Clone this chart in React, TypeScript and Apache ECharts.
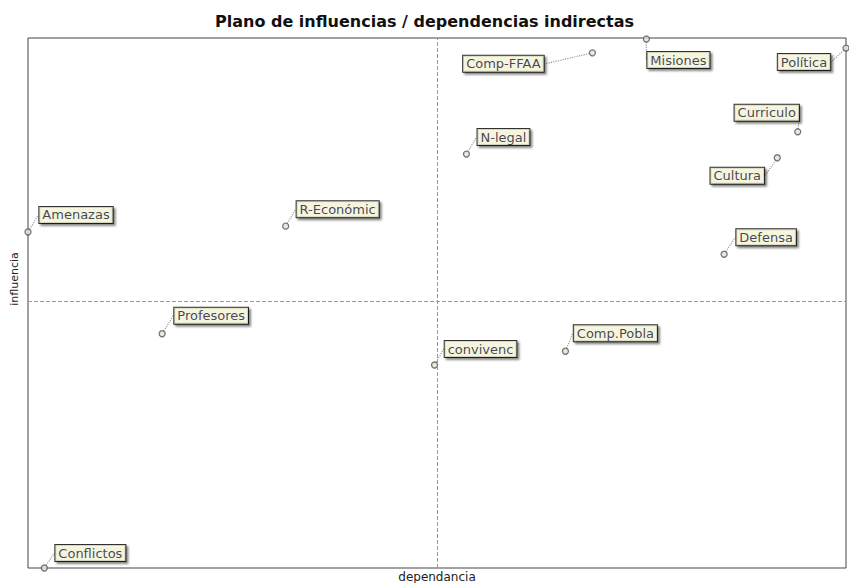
import React, { useEffect, useRef } from "react";
import * as echarts from "echarts";

const TITLE = "Plano de influencias / dependencias indirectas";
const X_NAME = "dependancia";
const Y_NAME = "influencia";

const NAMES = [
  "Comp-FFAA", "Misiones", "Política", "Curriculo", "N-legal", "Cultura", "Defensa",
  "Amenazas", "R-Económic", "Profesores", "convivenc", "Comp.Pobla", "Conflictos",
];
const DEPENDENCIA = [69.0, 75.6, 100, 94.1, 53.6, 91.6, 85.1, 0, 31.5, 16.4, 49.7, 65.7, 2.0];
const INFLUENCIA = [97.2, 99.8, 98.1, 82.3, 78.1, 77.4, 59.2, 63.4, 64.5, 44.2, 38.3, 40.9, 0];

const X_MID = 50;
const Y_MID = 50.4;

// label placement offsets (px) relative to the marker
const LABEL_OFFSETS: [number, number][] = [
  [-89, 11], [32, 21], [-42, 14], [-31, -19], [37, -17], [-40, 18], [42, -17],
  [48, -17], [52, -17], [49, -18], [46, -16], [50, -18], [46, -15],
];

export default function App() {
  const ref = useRef<HTMLDivElement>(null);
  useEffect(() => {
    if (!ref.current) return;
    const chart = echarts.init(ref.current, undefined, { renderer: "svg" });
    const data = NAMES.map((n, i) => ({ name: n, value: [DEPENDENCIA[i], INFLUENCIA[i]] }));
    chart.setOption({
      animation: false,
      backgroundColor: "#ffffff",
      title: {
        text: TITLE,
        left: "center",
        top: 8,
        textStyle: { fontFamily: "DejaVu Sans", fontSize: 16, fontWeight: "bold", color: "#111" },
      },
      grid: {
        left: 28, right: 3, top: 38, bottom: 15,
        outerBoundsMode: "none",
        containLabel: false,
        show: true, borderColor: "#444", borderWidth: 1,
      },
      xAxis: {
        type: "value", min: 0, max: 100,
        name: X_NAME, nameLocation: "middle", nameGap: 3,
        nameTextStyle: { fontFamily: "DejaVu Sans", fontSize: 12, color: "#222", verticalAlign: "top" },
        axisLine: { show: false }, axisTick: { show: false }, axisLabel: { show: false },
        splitLine: { show: false },
      },
      yAxis: {
        type: "value", min: 0, max: 100,
        name: Y_NAME, nameLocation: "middle", nameGap: 8,
        nameTextStyle: { fontFamily: "DejaVu Sans", fontSize: 11, color: "#222", padding: [0, 0, 0, 48] },
        axisLine: { show: false }, axisTick: { show: false }, axisLabel: { show: false },
        splitLine: { show: false },
      },
      series: [
        {
          type: "scatter",
          data,
          symbol: "circle",
          symbolSize: 6,
          itemStyle: { color: "#e4e4d4", borderColor: "#555", borderWidth: 1.3 },
          label: {
            show: true,
            position: "inside",
            formatter: "{b}",
            fontFamily: "DejaVu Sans",
            fontSize: 13,
            color: "#141436",
            backgroundColor: "#ffffe4",
            borderColor: "#000",
            borderWidth: 1,
            padding: [2, 3, 1, 3],
            shadowColor: "rgba(0,0,0,0.55)",
            shadowOffsetX: 2,
            shadowOffsetY: 2,
            shadowBlur: 2,
          },
          labelLine: {
            show: true,
            lineStyle: { color: "#999", type: "dotted", width: 1.2 },
          },
          labelLayout: (p: any) => ({
            dx: LABEL_OFFSETS[p.dataIndex][0],
            dy: LABEL_OFFSETS[p.dataIndex][1],
          }),
          emphasis: { disabled: true },
          markLine: {
            silent: true,
            symbol: "none",
            label: { show: false },
            lineStyle: { color: "#999", type: "dashed", width: 1 },
            data: [{ xAxis: X_MID }, { yAxis: Y_MID }],
          },
        },
      ],
    });
    return () => chart.dispose();
  }, []);
  return <div ref={ref} style={{ width: 849, height: 583, position: "absolute", left: 0, top: 0 }} />;
}
